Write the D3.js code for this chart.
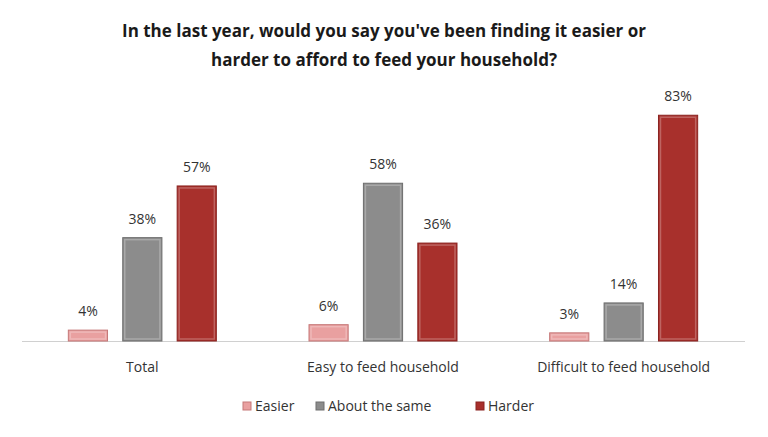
<!DOCTYPE html>
<html><head><meta charset="utf-8">
<script src="https://cdn.jsdelivr.net/npm/d3@7"></script>
<style>body{margin:0;background:#fff;font-family:"Open Sans",sans-serif;}</style>
</head><body><svg id="c" width="768" height="437"></svg>
<script>
const categories = ["Total", "Easy to feed household", "Difficult to feed household"];
const seriesNames = ["Easier", "About the same", "Harder"];
const easier = [4, 6, 3];
const aboutSame = [38, 58, 14];
const harder = [57, 36, 83];
const colors = ["#e9a0a0", "#8c8c8c", "#a8302c"];
const strokes = ["#c57878", "#6e6e6e", "#8a2320"];

const svg = d3.select("#c");
svg.append("text").attr("x", 384).attr("y", 37).attr("text-anchor", "middle")
  .attr("font-size", 17).attr("font-weight", "bold").attr("fill", "#1a1a1a")
  .text("In the last year, would you say you've been finding it easier or");
svg.append("text").attr("x", 384).attr("y", 66).attr("text-anchor", "middle")
  .attr("font-size", 17).attr("font-weight", "bold").attr("fill", "#1a1a1a")
  .text("harder to afford to feed your household?");

const base = 341;
const x = d3.scaleBand().domain(categories).range([22, 744]);
const y = d3.scaleLinear().domain([0, 100]).range([base, base - 272]);
const xs = d3.scaleBand().domain(seriesNames).range([0, 148]).paddingInner(0.28);

svg.append("line").attr("x1", 22).attr("x2", 745).attr("y1", base + 0.5).attr("y2", base + 0.5)
  .attr("stroke", "#d0d0d0");

const rows = categories.map((c, i) => [easier[i], aboutSame[i], harder[i]]
  .map((v, j) => ({cat: c, s: seriesNames[j], v, j})));

const g = svg.append("g");
rows.flat().forEach(d => {
  const bx = x(d.cat) + x.bandwidth() / 2 - 74 + xs(d.s);
  g.append("rect").attr("x", bx).attr("y", y(d.v)).attr("width", xs.bandwidth())
    .attr("height", base - y(d.v)).attr("fill", colors[d.j]).attr("stroke", strokes[d.j]);
  g.append("rect").attr("x", bx + 2).attr("y", y(d.v) + 2).attr("width", xs.bandwidth() - 4)
    .attr("height", Math.max(0, base - y(d.v) - 4)).attr("fill", "none")
    .attr("stroke", "#fff").attr("stroke-opacity", 0.25).attr("stroke-width", 1.5);
  g.append("text").attr("x", bx + xs.bandwidth() / 2).attr("y", y(d.v) - 14)
    .attr("text-anchor", "middle").attr("font-size", 14).attr("fill", "#333").text(d.v + "%");
});

categories.forEach(c => {
  svg.append("text").attr("x", x(c) + x.bandwidth() / 2).attr("y", 372)
    .attr("text-anchor", "middle").attr("font-size", 14).attr("fill", "#333").text(c);
});

const lx = [243, 316, 476];
seriesNames.forEach((s, j) => {
  svg.append("rect").attr("x", lx[j]).attr("y", 402).attr("width", 8).attr("height", 8)
    .attr("fill", colors[j]).attr("stroke", strokes[j]);
  svg.append("text").attr("x", lx[j] + 12).attr("y", 411).attr("font-size", 14)
    .attr("fill", "#333").text(s);
});
</script></body></html>
